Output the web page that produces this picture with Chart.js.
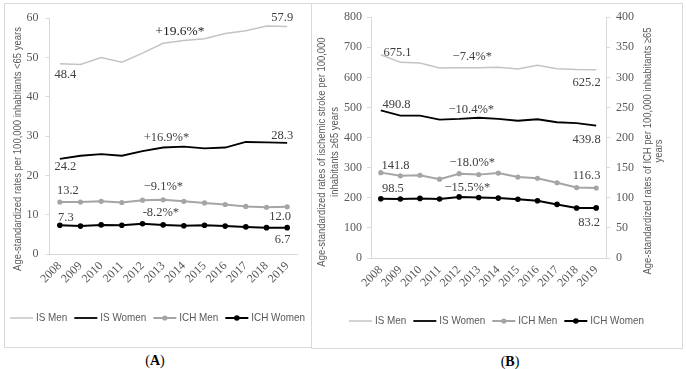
<!DOCTYPE html>
<html>
<head>
<meta charset="utf-8">
<script src="https://cdn.jsdelivr.net/npm/chart.js@4.4.0/dist/chart.umd.min.js"></script>
<style>
html,body{margin:0;padding:0;background:#fff;width:686px;height:369px;overflow:hidden}
.panel{position:absolute;border:1px solid #d9d9d9;box-sizing:border-box}
#panelA{left:4px;top:3px;width:308px;height:345px}
#panelB{left:311px;top:3px;width:372px;height:346px}
canvas{position:absolute}
#chartA{left:5px;top:4px}
#chartB{left:312px;top:4px}
.tag{position:absolute;font:14px "Liberation Serif",serif;color:#000;transform:translateX(-50%);white-space:nowrap}
</style>
</head>
<body>
<div class="panel" id="panelA"></div>
<div class="panel" id="panelB"></div>
<canvas id="chartA" width="305" height="342"></canvas>
<canvas id="chartB" width="369" height="343"></canvas>
<div class="tag" style="left:155px;top:353px">(<b>A</b>)</div>
<div class="tag" style="left:510px;top:354px">(<b>B</b>)</div>
<script>
/* Stroke rates by sex, 2008-2019: panel A (<65 y) and panel B (>=65 y) */
const years=['2008','2009','2010','2011','2012','2013','2014','2015','2016','2017','2018','2019'];
const seriesNames=['IS Men','IS Women','ICH Men','ICH Women'];

// panel A, rates per 100,000 <65 years
const isMenA=[48.4,48.2,50.0,48.8,51.1,53.6,54.3,54.8,56.1,56.8,58.0,57.9];
const isWomenA=[24.2,25.0,25.4,25.0,26.2,27.1,27.3,26.9,27.1,28.5,28.4,28.3];
const ichMenA=[13.2,13.2,13.4,13.1,13.7,13.8,13.4,13.0,12.6,12.1,11.9,12.0];
const ichWomenA=[7.3,7.1,7.4,7.3,7.7,7.4,7.2,7.3,7.1,6.9,6.7,6.7];

// panel B, IS on left axis, ICH on right axis (per 100,000 >=65 years)
const isMenB=[675.1,650,648,631,632,632,634,628,640,629,626,625.2];
const isWomenB=[490.8,473,473,460,462,466,462,456,461,451,448,439.8];
const ichMenB=[141.8,136.5,137.5,131,140,138.5,141,134.5,132.5,125,117,116.3];
const ichWomenB=[98.5,98,99,98,101.5,100.5,99.5,97.5,95,89,83,83.2];

// text notes: label, category position, value position (left axis units)
const notesTextA=['48.4','57.9','+19.6%*','24.2','28.3','+16.9%*','13.2','\u22129.1%*','7.3','-8.2%*','12.0','6.7'];
const notesIdxA=[0.27,10.76,5.81,0.27,10.76,5.16,0.39,5.01,0.29,4.89,10.66,10.78];
const notesValA=[45.6,60.0,56.7,22.1,30.0,29.7,16.0,17.1,9.2,10.5,9.6,3.65];
const notesTextB=['675.1','\u22127.4%*','625.2','490.8','\u221210.4%*','439.8','141.8','\u221218.0%*','116.3','98.5','\u221215.5%*','83.2'];
const notesIdxB=[0.85,4.67,10.51,0.8,4.62,10.51,0.75,4.67,10.51,0.62,4.42,10.64];
const notesValB=[681,668,582,510.6,494,394,305,316.6,272,228.8,233.7,117.7];

const SERIF='"Liberation Serif","Times New Roman",serif';
const SANS='"Liberation Sans",Arial,sans-serif';
const SQUEEZE=0.86;
const GREY='#595959', AXIS='#d9d9d9';
const lightC='#c4c4c4', midC='#a5a5a5', darkC='#000000';

function sansText(ctx,text,x,y,size,rot){
  ctx.save();ctx.translate(x,y);if(rot)ctx.rotate(rot);ctx.scale(SQUEEZE,1);
  ctx.font=size+'px '+SANS;ctx.fillStyle=GREY;ctx.textAlign='center';ctx.textBaseline='middle';
  ctx.fillText(text,0,0);ctx.restore();
}

function notesPlugin(texts,idx,vals){
  return {id:'notes',afterDatasetsDraw(chart){
    const ctx=chart.ctx,xs=chart.scales.x,ys=chart.scales.y;
    ctx.save();ctx.textAlign='center';ctx.textBaseline='middle';
    texts.forEach(function(t,i){
      const big=t==='+19.6%*';
      ctx.font=(big?13.5:12.5)+'px '+SERIF;ctx.fillStyle=big?'#222':'#404040';
      ctx.fillText(t,xs.getPixelForValue(idx[i]),ys.getPixelForValue(vals[i]));
    });
    ctx.restore();
  }};
}

function titlePlugin(lines){
  return {id:'titles',afterDraw(chart){
    lines.forEach(function(l){sansText(chart.ctx,l[0],l[1],l[2],11,-Math.PI/2);});
  }};
}

function legendPlugin(cy){
  return {id:'legendBox',afterDraw(chart){
    const ctx=chart.ctx,ds=chart.data.datasets,lineLen=23,gap=3,itemGap=7,size=11.5;
    ctx.save();ctx.font=size+'px '+SANS;
    const widths=ds.map(d=>ctx.measureText(d.label).width*SQUEEZE);
    let total=widths.reduce((a,w)=>a+lineLen+gap+w,0)+itemGap*(ds.length-1);
    let x=chart.width/2-total/2;
    ds.forEach(function(d,i){
      ctx.strokeStyle=d.borderColor;ctx.lineWidth=d.borderWidth;
      ctx.beginPath();ctx.moveTo(x,cy);ctx.lineTo(x+lineLen,cy);ctx.stroke();
      if(d.pointRadius>0){ctx.fillStyle=d.borderColor;ctx.beginPath();ctx.arc(x+lineLen/2,cy,d.pointRadius,0,Math.PI*2);ctx.fill();}
      ctx.restore();ctx.save();
      sansText(ctx,d.label,x+lineLen+gap+widths[i]/2,cy,size,0);
      ctx.font=size+'px '+SANS;
      x+=lineLen+gap+widths[i]+itemGap;
    });
    ctx.restore();
  }};
}

function makeSets(a,b,c,d,axisIch){
  const vals=[a,b,c,d];
  const colors=[lightC,darkC,midC,darkC];
  const widths=[1.5,1.8,2,2];
  const radius=[0,0,2.6,2.8];
  return vals.map(function(v,i){
    const s={label:seriesNames[i],data:v,borderColor:colors[i],backgroundColor:colors[i],borderWidth:widths[i],
      pointRadius:radius[i],pointBorderWidth:0,pointHoverRadius:radius[i],tension:0,fill:false};
    if(i>=2&&axisIch)s.yAxisID=axisIch;
    return s;
  });
}

const tickFont={family:SERIF,size:12};
function xAxis(h){
  return {offset:true,grid:{drawOnChartArea:false,drawTicks:false},border:{color:AXIS},
    ticks:{font:tickFont,color:GREY,minRotation:45,maxRotation:45,autoSkip:false,padding:5},
    afterFit(s){s.height=h;}};
}
function yAxis(max,step,pos,w,pad){
  return {position:pos,min:0,max:max,grid:{drawOnChartArea:false,tickLength:4,color:AXIS},border:{color:AXIS},
    ticks:{stepSize:step,font:tickFont,color:GREY,padding:pad},afterFit(s){s.width=w;}};
}

new Chart(document.getElementById('chartA'),{
  type:'line',
  data:{labels:years,datasets:makeSets(isMenA,isWomenA,ichMenA,ichWomenA,null)},
  options:{responsive:false,animation:false,
    layout:{padding:{left:0,right:12.5,top:12,bottom:0}},
    scales:{x:xAxis(92),y:yAxis(60,10,'left',44.5,7)},
    plugins:{legend:{display:false},tooltip:{enabled:false}}},
  plugins:[notesPlugin(notesTextA,notesIdxA,notesValA),
    titlePlugin([['Age-standardized rates per 100,000 inhabitants <65 years',13,145]]),
    legendPlugin(314)]
});

new Chart(document.getElementById('chartB'),{
  type:'line',
  data:{labels:years,datasets:makeSets(isMenB,isWomenB,ichMenB,ichWomenB,'y1')},
  options:{responsive:false,animation:false,
    layout:{padding:{left:0,right:0,top:12.7,bottom:0}},
    scales:{x:xAxis(89),y:yAxis(800,100,'left',59,5),y1:yAxis(400,50,'right',75,6)},
    plugins:{legend:{display:false},tooltip:{enabled:false}}},
  plugins:[notesPlugin(notesTextB,notesIdxB,notesValB),
    titlePlugin([['Age-standardized rates of ischemic stroke per 100,000',10,148],['inhabitants \u226565 years',23,148],
      ['Age-standardized rates of ICH per 100,000 inhabitants \u226565',335.5,147],['years',346.5,147]]),
    legendPlugin(317)]
});
</script>
</body>
</html>
